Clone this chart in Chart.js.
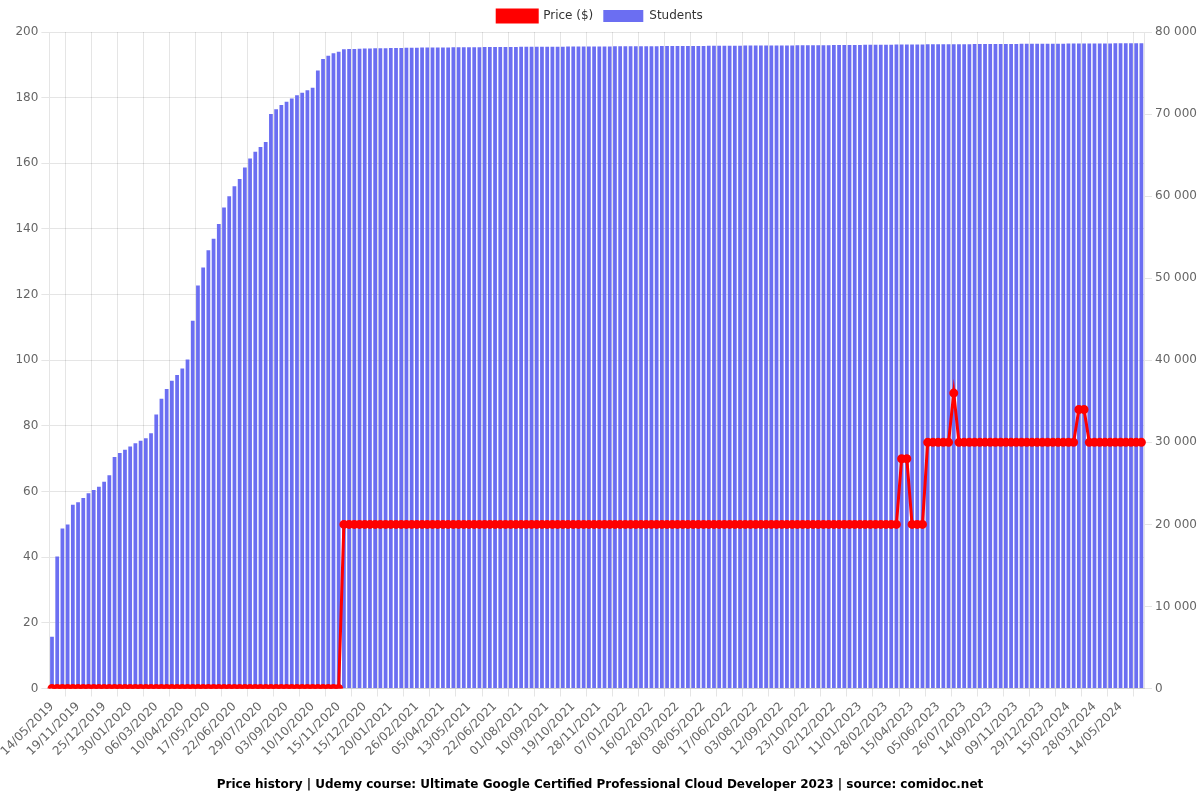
<!DOCTYPE html>
<html>
<head>
<meta charset="utf-8">
<script src="https://cdn.jsdelivr.net/npm/chart.js@4/dist/chart.umd.min.js"></script>
<style>
  html, body { margin: 0; padding: 0; background: #fff; }
  #wrap { width: 1200px; height: 800px; }
</style>
</head>
<body>
<div id="wrap"><canvas id="priceChart"></canvas></div>
<script>
// visible date ticks, one every 5 data points
const tickDates = [
  '14/05/2019', '19/11/2019', '25/12/2019', '30/01/2020', '06/03/2020', '10/04/2020',
  '17/05/2020', '22/06/2020', '29/07/2020', '03/09/2020', '10/10/2020', '15/11/2020',
  '15/12/2020', '20/01/2021', '26/02/2021', '05/04/2021', '13/05/2021', '22/06/2021',
  '01/08/2021', '10/09/2021', '19/10/2021', '28/11/2021', '07/01/2022', '16/02/2022',
  '28/03/2022', '08/05/2022', '17/06/2022', '03/08/2022', '12/09/2022', '23/10/2022',
  '02/12/2022', '11/01/2023', '28/02/2023', '15/04/2023', '05/06/2023', '26/07/2023',
  '14/09/2023', '09/11/2023', '29/12/2023', '15/02/2024', '28/03/2024', '14/05/2024'
];

const priceValues = [
  0, 0, 0, 0, 0, 0, 0, 0, 0, 0,
  0, 0, 0, 0, 0, 0, 0, 0, 0, 0,
  0, 0, 0, 0, 0, 0, 0, 0, 0, 0,
  0, 0, 0, 0, 0, 0, 0, 0, 0, 0,
  0, 0, 0, 0, 0, 0, 0, 0, 0, 0,
  0, 0, 0, 0, 0, 0, 50, 50, 50, 50,
  50, 50, 50, 50, 50, 50, 50, 50, 50, 50,
  50, 50, 50, 50, 50, 50, 50, 50, 50, 50,
  50, 50, 50, 50, 50, 50, 50, 50, 50, 50,
  50, 50, 50, 50, 50, 50, 50, 50, 50, 50,
  50, 50, 50, 50, 50, 50, 50, 50, 50, 50,
  50, 50, 50, 50, 50, 50, 50, 50, 50, 50,
  50, 50, 50, 50, 50, 50, 50, 50, 50, 50,
  50, 50, 50, 50, 50, 50, 50, 50, 50, 50,
  50, 50, 50, 50, 50, 50, 50, 50, 50, 50,
  50, 50, 50, 50, 50, 50, 50, 50, 50, 50,
  50, 50, 50, 70, 70, 50, 50, 50, 75, 75,
  75, 75, 75, 90, 75, 75, 75, 75, 75, 75,
  75, 75, 75, 75, 75, 75, 75, 75, 75, 75,
  75, 75, 75, 75, 75, 75, 75, 85, 85, 75,
  75, 75, 75, 75, 75, 75, 75, 75, 75, 75
];

const studentValues = [
  6300, 16100, 19500, 20000, 22400, 22700, 23200, 23800, 24200, 24600,
  25200, 26000, 28200, 28700, 29100, 29500, 29900, 30200, 30500, 31100,
  33400, 35300, 36500, 37500, 38200, 39000, 40100, 44800, 49100, 51300,
  53400, 54800, 56600, 58600, 60000, 61200, 62100, 63500, 64600, 65400,
  66000, 66600, 70000, 70600, 71100, 71500, 71900, 72300, 72600, 72900,
  73200, 75300, 76700, 77100, 77400, 77600, 77900, 77920, 77940, 77960,
  77980, 78000, 78010, 78020, 78030, 78040, 78050, 78060, 78070, 78080,
  78090, 78100, 78100, 78110, 78110, 78120, 78120, 78130, 78130, 78140,
  78140, 78150, 78150, 78160, 78160, 78170, 78170, 78170, 78180, 78180,
  78190, 78190, 78190, 78200, 78200, 78200, 78210, 78210, 78210, 78220,
  78220, 78220, 78230, 78230, 78230, 78240, 78240, 78240, 78250, 78250,
  78250, 78260, 78260, 78260, 78270, 78270, 78270, 78280, 78280, 78280,
  78290, 78290, 78290, 78300, 78300, 78300, 78310, 78310, 78320, 78320,
  78320, 78330, 78330, 78340, 78340, 78340, 78350, 78350, 78360, 78360,
  78360, 78370, 78370, 78380, 78380, 78390, 78390, 78400, 78400, 78400,
  78410, 78410, 78420, 78420, 78430, 78430, 78440, 78440, 78450, 78450,
  78460, 78460, 78470, 78470, 78480, 78480, 78490, 78490, 78500, 78500,
  78500, 78510, 78510, 78510, 78520, 78520, 78520, 78530, 78530, 78530,
  78540, 78540, 78540, 78550, 78550, 78550, 78560, 78560, 78560, 78570,
  78570, 78570, 78580, 78580, 78580, 78590, 78590, 78590, 78600, 78600,
  78600, 78610, 78610, 78610, 78620, 78620, 78620, 78630, 78630, 78640
];

// only every 5th date is known from the picture, the rest stay blank
const labels = studentValues.map((v, i) => (i % 5 === 0 ? tickDates[i / 5] || '' : ''));

function spaceThousands(v) {
  return String(v).replace(/\B(?=(\d{3})+(?!\d))/g, ' ');
}

Chart.defaults.font.family = "'DejaVu Sans', sans-serif";
Chart.defaults.font.size = 12;
Chart.defaults.color = '#666';

new Chart(document.getElementById('priceChart').getContext('2d'), {
  type: 'bar',
  data: {
    labels,
    datasets: [
      {
        type: 'line',
        label: 'Price ($)',
        data: priceValues,
        borderColor: '#ff0000',
        backgroundColor: '#ff0000',
        borderWidth: 3,
        pointRadius: 3,
        pointBackgroundColor: '#ff0000',
        pointBorderColor: '#ff0000',
        tension: 0,
        yAxisID: 'y'
      },
      {
        label: 'Students',
        data: studentValues,
        backgroundColor: 'rgba(99, 102, 241, 0.95)',
        borderColor: 'rgba(130, 130, 245, 1)',
        borderWidth: 0,
        yAxisID: 'y1'
      }
    ]
  },
  options: {
    responsive: true,
    maintainAspectRatio: false,
    animation: false,
    plugins: {
      legend: {
        position: 'top',
        labels: { color: '#333', boxWidth: 40, boxHeight: 12 }
      },
      title: {
        display: true,
        position: 'bottom',
        text: 'Price history | Udemy course: Ultimate Google Certified Professional Cloud Developer 2023 | source: comidoc.net',
        color: '#000',
        font: { size: 12, weight: 'bold' },
        padding: { top: 16, bottom: 8 }
      },
      tooltip: { enabled: false }
    },
    scales: {
      x: {
        ticks: { maxRotation: 45, minRotation: 45, color: '#666' },
        grid: { color: 'rgba(0,0,0,0.1)' }
      },
      y: {
        position: 'left',
        min: 0,
        max: 200,
        ticks: { stepSize: 20, color: '#666' },
        grid: { color: 'rgba(0,0,0,0.1)' }
      },
      y1: {
        position: 'right',
        min: 0,
        max: 80000,
        ticks: { stepSize: 10000, color: '#666', callback: v => spaceThousands(v) },
        grid: { drawOnChartArea: false }
      }
    }
  }
});
</script>
</body>
</html>
